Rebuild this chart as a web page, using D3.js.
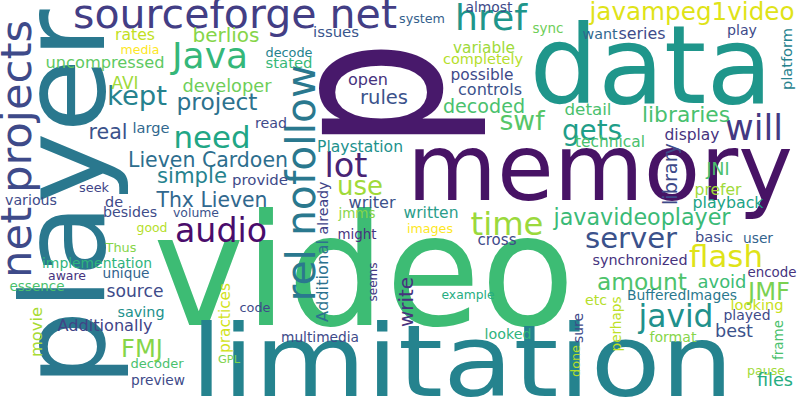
<!DOCTYPE html>
<html><head><meta charset="utf-8">
<script src="https://cdn.jsdelivr.net/npm/d3@7/dist/d3.min.js"></script>
<style>body{margin:0;background:#fff}</style></head>
<body><svg id="c" width="800" height="400"></svg>
<script>
// word, anchor-x, anchor-y (baseline), length along text, rotation, colour
const words = ["p","memory","video","data","limitation","player","sourceforge net","net projects","rel nofollow","javampeg1video","javavideoplayer","Java","need","href","kept","audio","time","server","flash","amount","javid","swf","gets","will","use","lot","decoded","JMF","Lieven Cardoen","Thx Lieven","simple","uncompressed","project","developer","berlios","libraries","BufferedImages","synchronized","implementation","Additionally","FMJ","source","multimedia","Playstation","completely","variable","possible","controls","open","rules","display","technical","detail","want","series","platform","library","JNI","prefer","playback","basic","user","encode","avoid","etc","looking","played","perhaps","sure","best","format","frame","done","pause","files","writer","jmms","written","images","might","cross","already","Additional","seems","write","example","looked","volume","besides","good","Thus","aware","unique","essence","saving","code","movie","practices","GPL","decoder","preview","various","de","seek","provide","real","large","read","AVI","rates","media","almost","system","issues","decode","stated","sync","play"];
const ax = [440,600,364,651,462,104,235,31,315,692,642,210,212,491,137,221,507,631,726,642,676,522,592,754,360,346,484,769,208,212,192,105,217,227,226,686,682,640,97,105,142,135,320,360,483,484,482,490,368,384,692,610,588,600,642,792,677,718,718,728,714,758,772,722,596,757,747,621,583,734,673,783,580,766,775,372,357,431,430,357,497,328,328,377,413,468,508,196,130,152,121,67,126,37,141,255,42,230,229,157,158,31,114,94,260,108,151,271,125,135,140,489,422,336,289,289,548,742];
const ay = [95,200,325,103,396,198,28,149,183,20,225,68,148,30,105,242,235,248,267,290,327,130,140,140,195,177,113,300,167,207,183,68,110,92,42,122,300,265,268,331,357,297,342,152,64,53,80,95,85,104,140,147,115,39,39,59,174,175,195,208,242,243,277,288,305,310,320,324,328,337,342,340,361,375,386,208,218,218,233,239,245,208,281,282,302,299,339,217,217,232,252,280,278,291,317,312,332,318,363,368,385,205,207,192,185,139,133,128,89,40,54,12,23,37,57,68,33,35];
const lens = [110,386,422,243,543,377,324,258,237,205,177,76,77,72,60,92,73,92,74,90,75,45,60,58,46,43,82,42,160,111,70,119,81,89,67,88,110,95,110,95,42,57,78,86,80,62,63,64,40,48,55,70,47,35,47,62,62,23,47,71,38,30,49,49,22,53,47,55,30,38,47,40,32,38,36,47,37,55,46,39,39,53,82,39,50,53,47,46,54,31,31,38,47,55,47,31,50,70,22,53,54,52,18,30,56,39,37,32,27,40,39,47,46,46,47,47,31,30];
const rots = ["p","platform","library","perhaps","sure","frame","done","already","Additional","seems","write","movie","practices","player","net projects","rel nofollow"];
const colors = ["#48196b","#471365","#3dbc74","#1f968b","#25838e","#2a788e","#433e85","#3e4a89","#2a788e","#dfe318","#3aba76","#35b779","#21a685","#1f968b","#26828e","#4a0c6b","#9bd93c","#3b528b","#dfe318","#4ec36b","#21918c","#56c667","#1f9e89","#443983","#a0da39","#482475","#4ac16d","#7ad151","#2d6e8e","#31688e","#26828e","#5ec962","#2c728e","#6ece58","#86d549","#48c16e","#2a788e","#46337e","#2fb47c","#414487","#86d549","#3e4c8a","#3e4a89","#21918c","#b5de2b","#a0da39","#3e4a89","#3b528b","#46337e","#3b528b","#46337e","#4ac16d","#4ac16d","#31688e","#3e4c8a","#26828e","#3e4a89","#4ac16d","#a0da39","#20a386","#3e4c8a","#33638d","#46337e","#3dbc74","#b5de2b","#c8e020","#3e4a89","#bddf26","#3e4a89","#3b528b","#86d549","#4ac16d","#b5de2b","#a0da39","#26ad81","#3b528b","#86d549","#2a9d8a","#fde725","#46337e","#3e4a89","#414487","#2c728e","#453781","#46337e","#26ad81","#2fb47c","#3b528b","#3e4c8a","#b5de2b","#86d549","#46337e","#33638d","#4ac16d","#21918c","#3e4a89","#a8db34","#d2e21b","#7fd34e","#4ac16d","#3e4a89","#3e4a89","#3e4a89","#414487","#3e4a89","#3b528b","#31688e","#3e4a89","#a0da39","#c2df23","#fde725","#3e4a89","#355f8d","#39568c","#26828e","#37b878","#6ece58","#3e4a89"];
const fixedSize = {"p": 215, "player": 115, "limitation": 100};

const svg = d3.select("#c");
const font = "DejaVu Sans";
const data = words.map((w,i)=>({w, x:ax[i], y:ay[i], len:lens[i], rot:rots.includes(w)?-90:0, col:colors[i]}));
const xs = d3.scaleIdentity(), ys = d3.scaleIdentity();
const g = svg.append("g");
g.selectAll("text").data(data).join("text")
  .text(d=>d.w)
  .attr("font-family", font)
  .attr("text-anchor","middle")
  .attr("fill", d=>d.col)
  .attr("font-size", 100)
  .each(function(d){
    const natural = this.getComputedTextLength();
    const fs = fixedSize[d.w] || 100*d.len/natural;
    d3.select(this).attr("font-size", fs)
      .attr("textLength", d.len).attr("lengthAdjust","spacingAndGlyphs");
  })
  .attr("transform", d=>`translate(${xs(d.x)},${ys(d.y)}) rotate(${d.rot})`);
</script></body></html>
